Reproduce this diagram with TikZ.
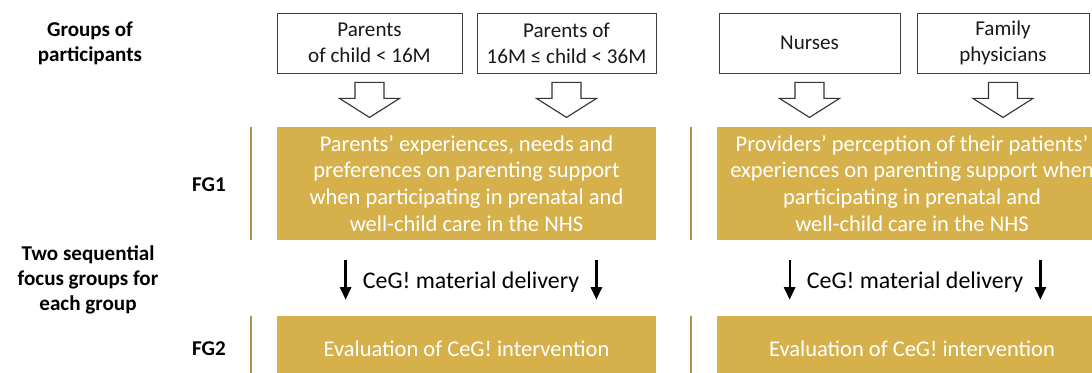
\documentclass[tikz,border=0pt]{standalone}
\usepackage{fontspec}
\setmainfont{Carlito}
\usepackage{tikz}
\usetikzlibrary{positioning,calc,arrows.meta}
\definecolor{gold}{RGB}{214,177,75}
\definecolor{goldline}{RGB}{176,145,72}

\begin{document}
\begin{tikzpicture}[x=0.025cm,y=-0.025cm,
  group/.style={draw=black!75,line width=.6pt,minimum height=1.5cm,align=center,inner sep=0pt,font=\fontsize{15}{18.5}\selectfont,text=black!90},
  fgbox/.style={fill=gold,text=white,align=center,inner sep=0pt,font=\fontsize{16}{19}\selectfont},
  rowlabel/.style={align=center,font=\bfseries\fontsize{15}{18}\selectfont},
  delivery/.style={inner sep=0pt,font=\fontsize{17}{20}\selectfont},
  hollow/.style={draw=black!80,line width=.8pt,fill=white,line join=miter},
  down/.style={-{Triangle[length=9pt,width=8pt]},line width=1.6pt},
  sep/.style={draw=goldline,line width=1.4pt}]
\useasboundingbox (0,0) rectangle (1092,373);
\clip (0,0) rectangle (1092,373);

% row labels
\node[rowlabel] (grp) at (90,43) {Groups of\\participants};
\node[rowlabel] (fg1lab) at (209,185) {FG1};
\node[rowlabel] (seq) at (88,280) {Two sequential\\focus groups for\\each group};
\node[rowlabel] (fg2lab) at (209,349) {FG2};

% groups of participants
\node[group,minimum width=4.625cm] (par1) at (369.5,43) {Parents\\of child < 16M};
\node[group,minimum width=4.475cm] (par2) at (566.5,43) {Parents of\\16M ≤ child < 36M};
\node[group,minimum width=4.525cm] (nur) at (809.5,43) {Nurses};
\node[group,minimum width=4.3cm] (fam) at (1003,43) {Family\\physicians};

% focus groups
\node[fgbox,minimum width=9.475cm,minimum height=2.825cm] (fg1l) at (466.5,183.5)
  {Parents’ experiences, needs and\\preferences on parenting support\\when participating in prenatal and\\well-child care in the NHS};
\node[fgbox,minimum width=9.75cm,minimum height=2.825cm] (fg1r) at (912,183.5)
  {Providers’ perception of their patients’\\experiences on parenting support when\\participating in prenatal and\\well-child care in the NHS};
\node[fgbox,minimum width=9.475cm,minimum height=1.625cm] (fg2l) at (466.5,348.5) {Evaluation of CeG! intervention};
\node[fgbox,minimum width=9.75cm,minimum height=1.625cm] (fg2r) at (912,348.5) {Evaluation of CeG! intervention};

\node[delivery] (md1) at (471,282) {CeG! material delivery};
\node[delivery] (md2) at (915,282) {CeG! material delivery};

% gold side rules
\foreach \b in {fg1l,fg2l,fg1r,fg2r}
  \draw[sep] ($(\b.north west)+(-26,0)$) -- ($(\b.south west)+(-26,0)$);

% hollow arrows
\foreach \g in {par1,par2,nur,fam}
  \draw[hollow] ($(\g.south)+(-14.5,9)$) -- ++(29,0) -- ++(0,16) -- ++(15.5,0)
    -- ++(-30,19) -- ++(-30,-19) -- ++(15.5,0) -- cycle;

% delivery arrows
\foreach \m/\a/\b in {md1/fg1l/fg2l,md2/fg1r/fg2r} {
  \draw[down] ($(\m.west |- \a.south)+(-17,20)$) -- ($(\m.west |- \b.north)+(-17,-16)$);
  \draw[down] ($(\m.east |- \a.south)+(17,20)$) -- ($(\m.east |- \b.north)+(17,-16)$);
}
\end{tikzpicture}
\end{document}
